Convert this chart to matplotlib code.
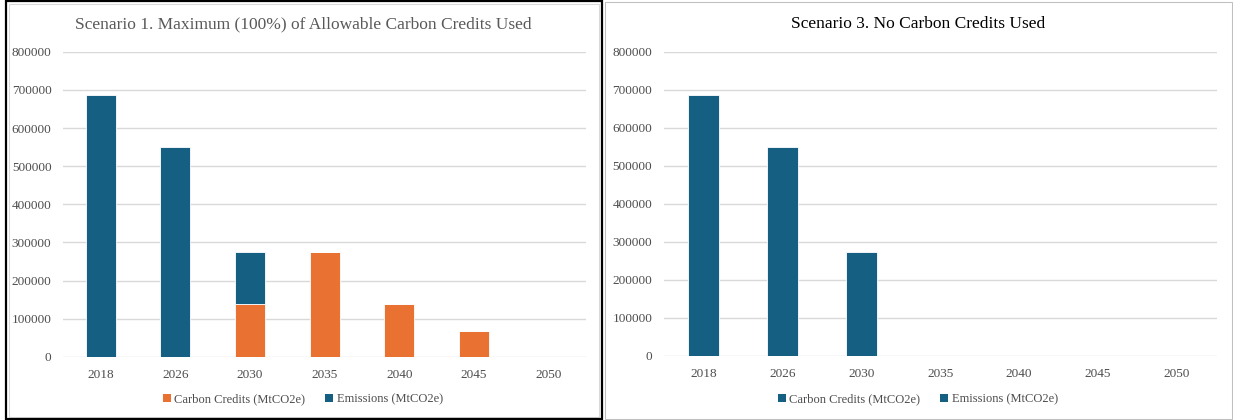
import matplotlib
matplotlib.use("Agg")
import matplotlib.pyplot as plt
from matplotlib.patches import Rectangle, Patch
import numpy as np

plt.rcParams['font.family'] = ['Liberation Serif', 'DejaVu Serif']

years = ['2018', '2026', '2030', '2035', '2040', '2045', '2050']

# Scenario 1: maximum allowable carbon credits
s1_credits = [0, 0, 137500, 275000, 137500, 68750, 0]
s1_emissions = [687000, 550000, 137500, 0, 0, 0, 0]

# Scenario 3: no carbon credits
s3_credits = [0, 0, 0, 0, 0, 0, 0]
s3_emissions = [687000, 550000, 275000, 0, 0, 0, 0]

y_ticks = [0, 100000, 200000, 300000, 400000, 500000, 600000, 700000, 800000]

BLUE = '#156082'
ORANGE = '#E97132'
GRID = '#D9D9D9'
TEXT = '#4D4D4D'
TITLE_GRAY = '#595959'

W, H = 1233, 420
fig = plt.figure(figsize=(W / 100, H / 100), dpi=100)


def px_axes(x0, x1, ytop, ybot):
    return fig.add_axes([x0 / W, 1 - ybot / H, (x1 - x0) / W, (ybot - ytop) / H])


def draw_panel(ax, credits, emissions, credit_color, title, title_color, cx):
    x = np.arange(len(years))
    ax.bar(x, credits, width=0.4, color=credit_color, edgecolor='white',
           linewidth=0.6, zorder=3)
    ax.bar(x, emissions, width=0.4, bottom=credits, color=BLUE,
           edgecolor='white', linewidth=0.6, zorder=3)
    ax.set_xlim(-0.5, len(years) - 0.5)
    ax.set_ylim(0, 800000)
    ax.set_yticks(y_ticks)
    ax.set_yticklabels([str(v) for v in y_ticks])
    ax.set_xticks(x)
    ax.set_xticklabels(years)
    ax.yaxis.grid(True, color=GRID, linewidth=1.0, zorder=0)
    ax.set_axisbelow(True)
    for s in ax.spines.values():
        s.set_visible(False)
    ax.tick_params(axis='both', length=0, labelsize=9.5, colors=TEXT)
    ax.tick_params(axis='y', pad=8.5)
    ax.tick_params(axis='x', pad=8.5)
    fig.text(cx / W, 1 - 24 / H, title, ha='center', va='center',
             fontsize=12.5, color=title_color)
    handles = [Patch(facecolor=credit_color, edgecolor='none'),
               Patch(facecolor=BLUE, edgecolor='none')]
    fig.legend(handles, ['Carbon Credits (MtCO2e)', 'Emissions (MtCO2e)'],
               loc='center', bbox_to_anchor=(cx / W, 1 - 399.5 / H), ncol=2,
               frameon=False, fontsize=9, labelcolor=TEXT,
               handlelength=0.6, handleheight=0.6, handletextpad=0.3,
               columnspacing=1.6)


ax1 = px_axes(63.3, 586, 51.9, 356.7)
draw_panel(ax1, s1_credits, s1_emissions, ORANGE,
           'Scenario 1. Maximum (100%) of Allowable Carbon Credits Used',
           TITLE_GRAY, 303)

ax3 = px_axes(664, 1216.5, 52, 356)
draw_panel(ax3, s3_credits, s3_emissions, BLUE,
           'Scenario 3. No Carbon Credits Used', 'black', 918)


def frame(x0, y0, x1, y1, color, lw):
    fig.add_artist(Rectangle((x0 / W, 1 - y1 / H), (x1 - x0) / W, (y1 - y0) / H,
                             transform=fig.transFigure, fill=False,
                             edgecolor=color, linewidth=lw))


frame(8.5, 3.5, 598.5, 416.5, '#D9D9D9', 0.75)
frame(604.5, 1.5, 1231.5, 418.5, '#BFBFBF', 0.75)
frame(6, 1, 602, 419, 'black', 1.6)

fig.savefig('out.png', dpi=100)
